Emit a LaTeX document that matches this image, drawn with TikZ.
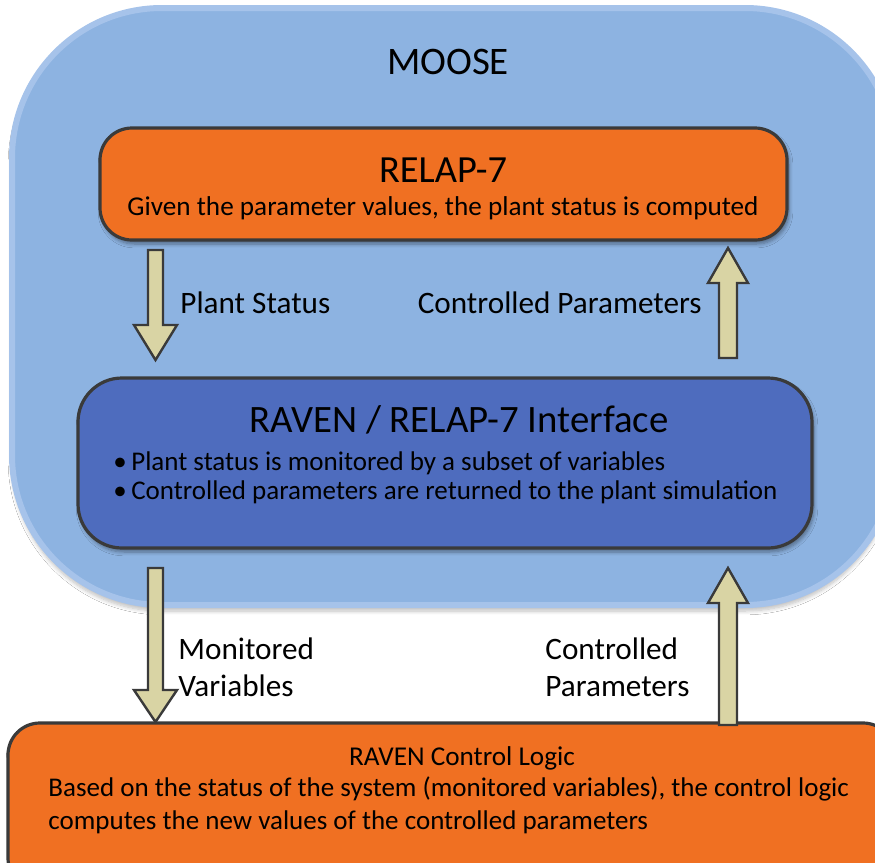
\documentclass[tikz,border=0pt]{standalone}
\usepackage{fontspec}
\setmainfont{Carlito}
\usetikzlibrary{shadows.blur}
\definecolor{mooseblue}{HTML}{8DB3E1}
\definecolor{mooserim}{HTML}{A6C3EA}
\definecolor{relaporange}{HTML}{F07022}
\definecolor{ifaceblue}{HTML}{4E6CBE}
\definecolor{arrowtan}{HTML}{D9D4A4}
\definecolor{edgedark}{HTML}{3A3A3A}
\tikzset{
  moosebox/.style={fill=mooseblue, draw=mooserim, line width=3, rounded corners=75,
    blur shadow={shadow xshift=0pt, shadow yshift=-3pt, shadow blur steps=8, shadow opacity=25}},
  orangebox/.style={fill=relaporange, draw=edgedark, line width=1.6, rounded corners=16,
    blur shadow={shadow xshift=1pt, shadow yshift=-2pt, shadow blur steps=6, shadow opacity=40}},
  bluebox/.style={fill=ifaceblue, draw=edgedark, line width=1.6, rounded corners=22,
    blur shadow={shadow xshift=1pt, shadow yshift=-2pt, shadow blur steps=6, shadow opacity=40}},
  fatarrow/.style={fill=arrowtan, draw=edgedark, line width=1.2, line join=miter},
  lbl/.style={inner sep=0pt, text=black},
}
\newcommand{\fs}[1]{\fontsize{#1}{#1}\selectfont}
\begin{document}
\begin{tikzpicture}[x=0.5pt,y=-0.5pt]
\useasboundingbox (0,0) rectangle (875,863);
\clip (0,0) rectangle (875,863);
\fill[white] (0,0) rectangle (875,863);
% MOOSE container
\draw[moosebox] (12,8) rectangle (895,605);
\node[lbl, font=\fs{19.5}] (moose) at (448,62) {MOOSE};
% RELAP-7
\draw[orangebox] (100,128) rectangle (787,240);
\node[lbl, font=\fs{19.2}] (relaptitle) at (443,170) {RELAP-7};
\node[lbl, font=\fs{13.6}] (relapsub) at (443,208) {Given the parameter values, the plant status is computed};
% Interface
\draw[bluebox] (78,378) rectangle (812,548);
\node[lbl, font=\fs{19.4}] (ifacetitle) at (459,420) {RAVEN / RELAP-7 Interface};
\node[lbl, font=\fs{13.5}, anchor=west] (b1) at (113,463) {\textbullet\,Plant status is monitored by a subset of variables};
\node[lbl, font=\fs{13.5}, anchor=west] (b2) at (113,492) {\textbullet\,Controlled parameters are returned to the plant simulation};
% RAVEN control logic
\draw[orangebox] (8,723) rectangle (895,890);
\node[lbl, font=\fs{13.6}] (ctitle) at (462,758) {RAVEN Control Logic};
\node[lbl, font=\fs{13.5}, anchor=west] (c1) at (48,789) {Based on the status of the system (monitored variables), the control logic};
\node[lbl, font=\fs{13.5}, anchor=west] (c2) at (48,822) {computes the new values of the controlled parameters};
% arrows
\draw[fatarrow] (148,250) -- (163,250) -- (163,325) -- (177,325) -- (155.5,360) -- (134,325) -- (148,325) -- cycle;
\draw[fatarrow] (719,358) -- (737,358) -- (737,283) -- (748,283) -- (728,248) -- (708,283) -- (719,283) -- cycle;
\draw[fatarrow] (148,568) -- (163,568) -- (163,690) -- (177,690) -- (155.5,722) -- (134,690) -- (148,690) -- cycle;
\draw[fatarrow] (719,725) -- (737,725) -- (737,603) -- (748,603) -- (728,568) -- (708,603) -- (719,603) -- cycle;
% labels
\node[lbl, font=\fs{15.6}, anchor=west] (ps) at (180,303) {Plant Status};
\node[lbl, font=\fs{15.6}, anchor=east] (cp) at (702,303) {Controlled Parameters};
\node[lbl, font=\fs{15.6}, anchor=west, align=left] (mv) at (178,667) {Monitored\\[3pt]Variables};
\node[lbl, font=\fs{15.6}, anchor=west, align=left] (cp2) at (545,667) {Controlled\\[3pt]Parameters};
\end{tikzpicture}
\end{document}
